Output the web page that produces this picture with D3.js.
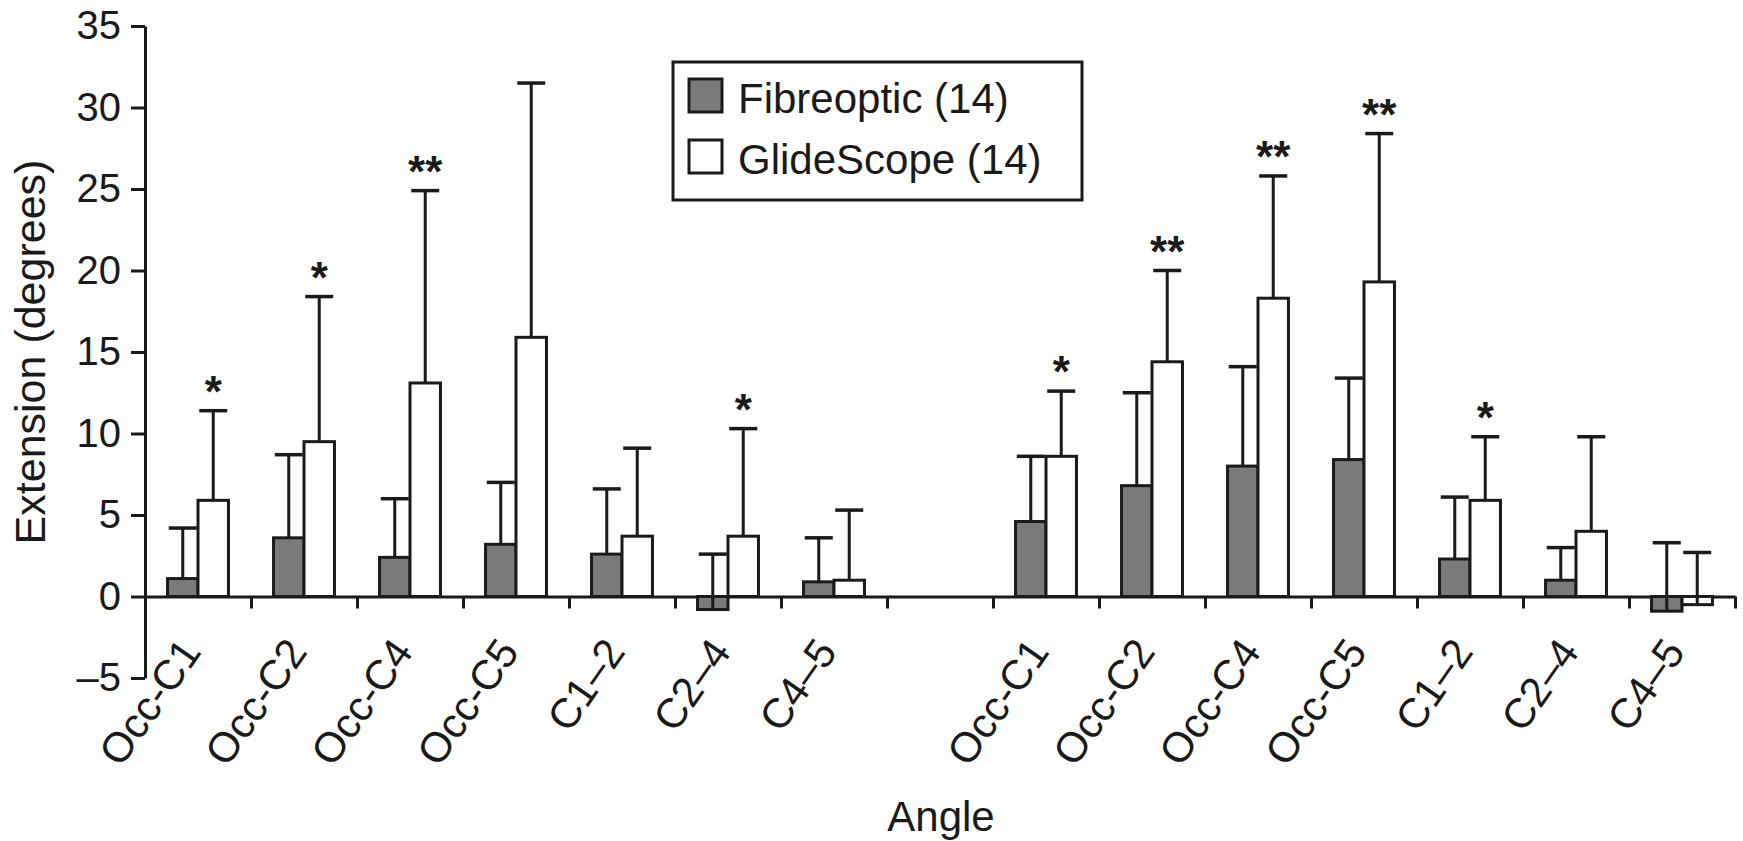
<!DOCTYPE html>
<html>
<head>
<meta charset="utf-8">
<script src="https://cdn.jsdelivr.net/npm/d3@7"></script>
<style>
  body { margin: 0; background: #fff; }
  svg text { font-family: "Liberation Sans", Arial, Helvetica, sans-serif; fill: #1a1a1a; }
  .axis path, .axis line { stroke: #1a1a1a; stroke-width: 3; }
</style>
</head>
<body>
<div id="chart"></div>
<script>
const width = 1743;
const height = 841;

// angle names, same in both halves
const categories = ['Occ-C1', 'Occ-C2', 'Occ-C4', 'Occ-C5', 'C1–2', 'C2–4', 'C4–5'];
const seriesNames = ['Fibreoptic (14)', 'GlideScope (14)'];

// left half
const fibreMeanA = [1.1, 3.6, 2.4, 3.2, 2.6, -0.8, 0.9];
const fibreSdA   = [3.1, 5.1, 3.6, 3.8, 4.0, 3.4, 2.7];
const glideMeanA = [5.9, 9.5, 13.1, 15.9, 3.7, 3.7, 1.0];
const glideSdA   = [5.5, 8.9, 11.8, 15.6, 5.4, 6.6, 4.3];
const sigA       = ['*', '*', '**', '', '', '*', ''];

// right half
const fibreMeanB = [4.6, 6.8, 8.0, 8.4, 2.3, 1.0, -0.9];
const fibreSdB   = [4.0, 5.7, 6.1, 5.0, 3.8, 2.0, 4.2];
const glideMeanB = [8.6, 14.4, 18.3, 19.3, 5.9, 4.0, -0.5];
const glideSdB   = [4.0, 5.6, 7.5, 9.1, 3.9, 5.8, 3.2];
const sigB       = ['*', '**', '**', '**', '*', '', ''];

const yTicks = [-5, 0, 5, 10, 15, 20, 25, 30, 35];

const greyFill = '#7a7a7a';
const ink = '#1a1a1a';

// build rows from the arrays
const rows = [];
categories.forEach((c, i) => {
    rows.push({key: 'a' + i, label: c, fm: fibreMeanA[i], fs: fibreSdA[i], gm: glideMeanA[i], gs: glideSdA[i], sig: sigA[i]});
});
rows.push({key: 'gap', label: '', fm: null});
categories.forEach((c, i) => {
    rows.push({key: 'b' + i, label: c, fm: fibreMeanB[i], fs: fibreSdB[i], gm: glideMeanB[i], gs: glideSdB[i], sig: sigB[i]});
});
const dataRows = rows.filter(d => d.fm !== null);

const svg = d3.select('#chart')
    .append('svg')
        .attr('width', width)
        .attr('height', height);

const x = d3.scaleBand()
    .domain(rows.map(d => d.key))
    .range([145, 1735])
    .paddingInner(0);

const xSub = d3.scaleBand()
    .domain(['f', 'g'])
    .range([0, x.bandwidth()])
    .paddingInner(0)
    .paddingOuter(0.74);

const y = d3.scaleLinear()
    .domain([-5, 35])
    .range([678, 26]);

// y axis
svg.append('g')
    .attr('class', 'axis')
    .attr('transform', 'translate(145,0)')
    .call(d3.axisLeft(y)
        .tickValues(yTicks)
        .tickSize(14)
        .tickSizeOuter(0)
        .tickPadding(10)
        .tickFormat(d => d < 0 ? '–' + Math.abs(d) : d))
    .call(g => g.selectAll('text').attr('font-size', 40).style('font-family', null));

// x axis: ticks on group boundaries
const xEdge = d3.scaleLinear().domain([0, rows.length]).range(x.range());
svg.append('g')
    .attr('class', 'axis')
    .attr('transform', `translate(0,${y(0)})`)
    .call(d3.axisBottom(xEdge)
        .tickValues(d3.range(1, rows.length + 1))
        .tickSize(12)
        .tickSizeOuter(0)
        .tickFormat(''));

// category labels
svg.append('g')
    .selectAll('text')
    .data(dataRows)
    .enter()
    .append('text')
        .attr('transform', d => `translate(${x(d.key) + x.bandwidth() / 2 + 4.5},652) rotate(-55)`)
        .attr('text-anchor', 'end')
        .attr('font-size', 42)
        .text(d => d.label);

// bars
const bars = [];
dataRows.forEach(d => {
    bars.push({key: d.key, s: 'f', mean: d.fm, sd: d.fs});
    bars.push({key: d.key, s: 'g', mean: d.gm, sd: d.gs, sig: d.sig});
});

const barG = svg.append('g');

// error bars first so the bar outline sits over them
barG.selectAll('line.err')
    .data(bars)
    .enter()
    .append('line')
        .attr('class', 'err')
        .attr('x1', d => x(d.key) + xSub(d.s) + xSub.bandwidth() / 2)
        .attr('x2', d => x(d.key) + xSub(d.s) + xSub.bandwidth() / 2)
        .attr('y1', d => y(d.mean))
        .attr('y2', d => y(d.mean + d.sd))
        .attr('stroke', ink)
        .attr('stroke-width', 3);

barG.selectAll('line.cap')
    .data(bars)
    .enter()
    .append('line')
        .attr('class', 'cap')
        .attr('x1', d => x(d.key) + xSub(d.s) + xSub.bandwidth() / 2 - 14)
        .attr('x2', d => x(d.key) + xSub(d.s) + xSub.bandwidth() / 2 + 14)
        .attr('y1', d => y(d.mean + d.sd))
        .attr('y2', d => y(d.mean + d.sd))
        .attr('stroke', ink)
        .attr('stroke-width', 3.5);

barG.selectAll('rect')
    .data(bars)
    .enter()
    .append('rect')
        .attr('x', d => x(d.key) + xSub(d.s))
        .attr('width', xSub.bandwidth())
        .attr('y', d => y(Math.max(0, d.mean)))
        .attr('height', d => Math.abs(y(d.mean) - y(0)))
        .attr('fill', d => d.s === 'f' ? greyFill : '#fff')
        .attr('stroke', ink)
        .attr('stroke-width', 3);

// negative bars: the error line runs through the bar from the mean
barG.selectAll('line.inner')
    .data(bars.filter(d => d.mean < 0))
    .enter()
    .append('line')
        .attr('x1', d => x(d.key) + xSub(d.s) + xSub.bandwidth() / 2)
        .attr('x2', d => x(d.key) + xSub(d.s) + xSub.bandwidth() / 2)
        .attr('y1', d => y(d.mean))
        .attr('y2', d => y(0))
        .attr('stroke', ink)
        .attr('stroke-width', 3);

// significance stars
barG.selectAll('text.sig')
    .data(bars.filter(d => d.sig))
    .enter()
    .append('text')
        .attr('class', 'sig')
        .attr('x', d => x(d.key) + xSub(d.s) + xSub.bandwidth() / 2)
        .attr('y', d => y(d.mean + d.sd) - 4)
        .attr('text-anchor', 'middle')
        .attr('font-size', 44)
        .attr('font-weight', 'bold')
        .text(d => d.sig);

// axis titles
svg.append('text')
    .attr('transform', `translate(45,${(y(-5) + y(35)) / 2}) rotate(-90)`)
    .attr('text-anchor', 'middle')
    .attr('font-size', 43)
    .text('Extension (degrees)');

svg.append('text')
    .attr('x', 941)
    .attr('y', 831)
    .attr('text-anchor', 'middle')
    .attr('font-size', 42)
    .text('Angle');

// legend
const legend = svg.append('g');
legend.append('rect')
    .attr('x', 673)
    .attr('y', 62)
    .attr('width', 409)
    .attr('height', 138)
    .attr('fill', '#fff')
    .attr('stroke', ink)
    .attr('stroke-width', 3);

const legItems = legend.selectAll('g.item')
    .data(seriesNames)
    .enter()
    .append('g')
        .attr('class', 'item')
        .attr('transform', (d, i) => `translate(689,${79 + i * 61})`);

legItems.append('rect')
    .attr('width', 33)
    .attr('height', 33)
    .attr('fill', (d, i) => i === 0 ? greyFill : '#fff')
    .attr('stroke', ink)
    .attr('stroke-width', 3);

legItems.append('text')
    .attr('x', 49)
    .attr('y', 34)
    .attr('font-size', 42)
    .text(d => d);
</script>
</body>
</html>
